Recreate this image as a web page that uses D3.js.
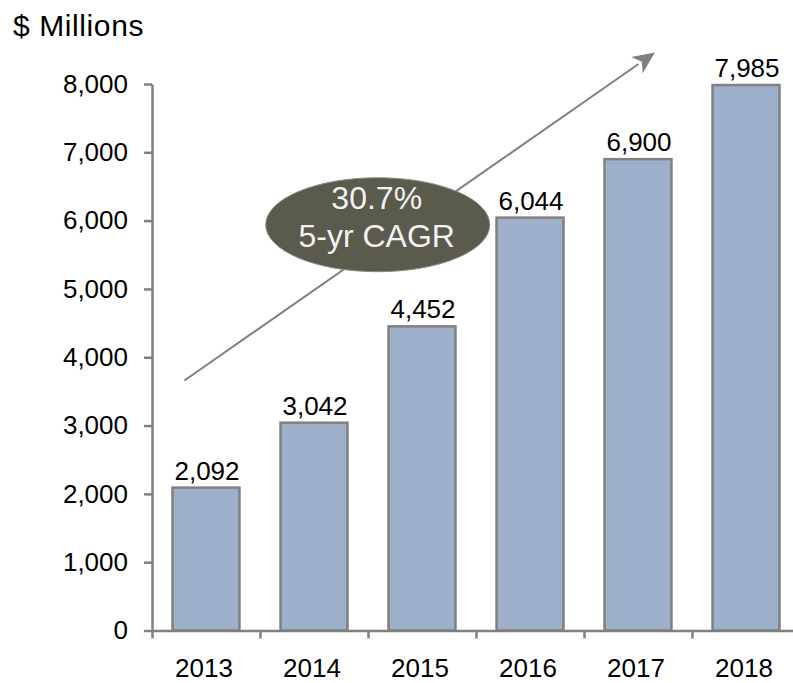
<!DOCTYPE html>
<html>
<head>
<meta charset="utf-8">
<script src="https://cdn.jsdelivr.net/npm/d3@7/dist/d3.min.js"></script>
<style>
  html, body { margin: 0; padding: 0; background: #ffffff; }
  svg { display: block; }
  text { font-family: "Liberation Sans", Arial, Helvetica, sans-serif; }
</style>
</head>
<body>
<svg id="chart" width="793" height="683"></svg>
<script>
// ---- data ----
const categories = ["2013", "2014", "2015", "2016", "2017", "2018"];
const values = [2092, 3042, 4452, 6044, 6900, 7985];
const yTicks = [0, 1000, 2000, 3000, 4000, 5000, 6000, 7000, 8000];
const unitLabel = "$ Millions";
const cagrLines = ["30.7%", "5-yr CAGR"];

// ---- layout ----
const plotLeft = 152, plotRight = 800, plotTop = 84, plotBottom = 630.5;
const svg = d3.select("#chart");

const x = d3.scaleBand().domain(categories).range([plotLeft, plotRight])
  .paddingInner(0.38).paddingOuter(0.19);
const xIdx = d3.scaleLinear().domain([0, categories.length]).range([plotLeft, plotRight]);
const y = d3.scaleLinear().domain([0, 8000]).range([plotBottom, plotTop]);

const axisColor = "#808080";
const fmt = d3.format(",");
const FONT = "Liberation Sans, Arial, sans-serif";

// bars
svg.append("g").selectAll("rect").data(values).join("rect")
  .attr("x", (d, i) => x(categories[i]))
  .attr("y", d => y(d))
  .attr("width", x.bandwidth())
  .attr("height", d => y(0) - y(d))
  .attr("fill", "#9fb1ca")
  .attr("stroke", "#808080")
  .attr("stroke-width", 2.5);

// value labels
svg.append("g").selectAll("text").data(values).join("text")
  .attr("x", (d, i) => x(categories[i]) + x.bandwidth() / 2 + 1)
  .attr("y", d => y(d) - 8)
  .attr("text-anchor", "middle")
  .attr("font-size", 26)
  .attr("fill", "#000")
  .text(d => fmt(d));

// y axis
const yAxis = svg.append("g").attr("transform", `translate(${plotLeft},0)`)
  .call(d3.axisLeft(y).tickValues(yTicks).tickFormat(fmt).tickSize(8).tickSizeOuter(0).tickPadding(16));
yAxis.select(".domain").attr("stroke", axisColor).attr("stroke-width", 2.5);
yAxis.selectAll(".tick line").attr("stroke", axisColor).attr("stroke-width", 2.5);
yAxis.selectAll(".tick text").attr("font-size", 26)
  .attr("fill", "#000").attr("font-family", FONT);

// x axis: boundary ticks
const xAxis = svg.append("g").attr("transform", `translate(0,${plotBottom})`)
  .call(d3.axisBottom(xIdx).tickValues(d3.range(categories.length + 1)).tickFormat("").tickSize(8).tickSizeOuter(0));
xAxis.select(".domain").attr("stroke", axisColor).attr("stroke-width", 2.5);
xAxis.selectAll(".tick line").attr("stroke", axisColor).attr("stroke-width", 2.5);

// x axis: category labels
const xLab = svg.append("g").attr("transform", `translate(0,${plotBottom})`)
  .call(d3.axisBottom(x).tickSize(0).tickPadding(28));
xLab.select(".domain").remove();
xLab.selectAll(".tick text").attr("font-size", 26).attr("dx", -2)
  .attr("fill", "#000").attr("font-family", FONT);

// unit label
svg.append("text").attr("x", 13).attr("y", 36)
  .attr("font-size", 30).attr("letter-spacing", 0.6).attr("fill", "#000")
  .text(unitLabel);

// growth arrow (positioned in data space)
const a0 = [xIdx(0.3), y(3660)];
const a1 = [xIdx(4.657), y(8460)];
const ang = Math.atan2(a1[1] - a0[1], a1[0] - a0[0]);
const headLen = 22, headHalf = 10;
const bx = a1[0] - headLen * Math.cos(ang), by = a1[1] - headLen * Math.sin(ang);
svg.append("line")
  .attr("x1", a0[0]).attr("y1", a0[1]).attr("x2", bx + 2 * Math.cos(ang)).attr("y2", by + 2 * Math.sin(ang))
  .attr("stroke", "#808080").attr("stroke-width", 2);
svg.append("polygon")
  .attr("points", [
    [a1[0], a1[1]],
    [bx + headHalf * Math.sin(ang), by - headHalf * Math.cos(ang)],
    [bx + 6 * Math.cos(ang), by + 6 * Math.sin(ang)],
    [bx - headHalf * Math.sin(ang), by + headHalf * Math.cos(ang)]
  ].map(p => p.join(",")).join(" "))
  .attr("fill", "#808080");

// CAGR ellipse
const ec = [xIdx(2.09), y(5940)];
svg.append("ellipse")
  .attr("cx", ec[0]).attr("cy", ec[1]).attr("rx", 112).attr("ry", 47)
  .attr("fill", "#5a5a4d").attr("stroke", "#8c8c82").attr("stroke-width", 1);
svg.append("g").selectAll("text").data(cagrLines).join("text")
  .attr("x", ec[0] - 1)
  .attr("y", (d, i) => ec[1] - 16 + i * 38)
  .attr("text-anchor", "middle")
  .attr("font-size", 32)
  .attr("fill", "#f2f2f2")
  .text(d => d);
</script>
</body>
</html>
